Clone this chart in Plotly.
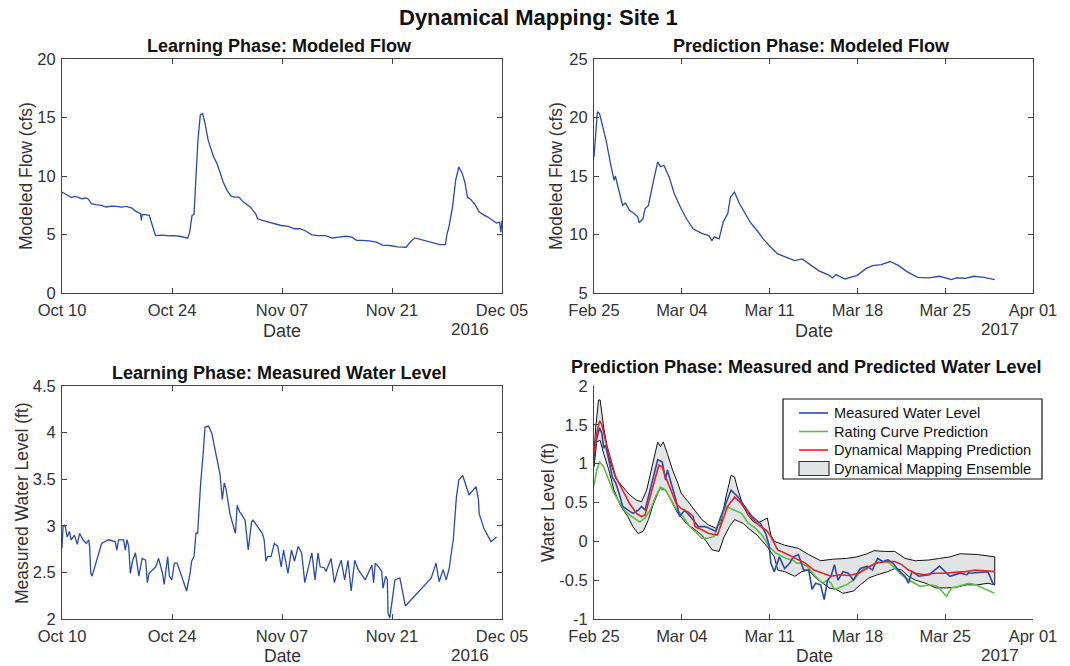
import pandas as pd
import plotly.graph_objects as go

# ---------------- data (day offsets from phase start, values) ----------------
learn_start = pd.Timestamp("2016-10-10")
pred_start = pd.Timestamp("2017-02-25")

lf_days = [0, 0.4, 0.73, 1.2, 1.6, 2.0, 2.5, 3.0, 3.3, 3.75, 4.3, 5.04, 5.6, 6.3, 6.9, 7.6, 8.2, 8.9,
           9.35, 10.0, 10.1, 10.2, 10.6, 11.1, 11.9, 12.8, 13.5, 14.1, 15.0, 16.0, 16.25, 16.55, 16.8,
           17.0, 17.3, 17.6, 17.9, 18.2, 18.6, 19.3, 19.7, 20.1, 20.5, 21.0, 21.5, 21.9, 22.5, 23.1,
           23.6, 24.0, 24.65, 24.9, 25.5, 26.2, 27.0, 27.9, 28.8, 29.6, 30.3, 30.9, 31.8, 32.6, 33.5,
           34.4, 35.2, 36.1, 36.9, 37.5, 38.2, 39.1, 40.0, 40.8, 41.7, 42.7, 43.8, 44.3, 44.9, 48.1,
           48.8, 49.0, 49.2, 49.7, 50.1, 50.5, 50.95, 51.3, 51.6, 52.0, 52.5, 53.1, 53.6, 54.2,
           55.3, 55.7, 55.85, 56.0]
lf_vals = [8.63, 8.45, 8.34, 8.15, 8.25, 8.2, 8.05, 8.12, 8.06, 7.63, 7.55, 7.49, 7.35, 7.43, 7.4,
           7.34, 7.4, 7.26, 7.0, 6.77, 6.2, 6.7, 6.7, 6.63, 4.91, 4.95, 4.88, 4.91, 4.85, 4.69, 5.2,
           6.63, 6.7, 9.63, 13.06, 15.2, 15.34, 14.5, 13.06, 11.63, 11.1, 10.34, 9.5, 8.77, 8.3, 8.2,
           8.2, 7.77, 7.5, 7.34, 6.77, 6.34, 6.2, 6.06, 5.95, 5.77, 5.7, 5.49, 5.5, 5.34, 4.97, 4.9,
           4.91, 4.7, 4.77, 4.85, 4.77, 4.5, 4.49, 4.45, 4.34, 4.1, 4.06, 3.95, 3.91, 4.34, 4.71, 4.14,
           4.14, 5.06, 5.49, 7.34, 9.63, 10.77, 10.2, 9.4, 8.2, 8.0, 7.63, 6.91, 6.7, 6.49, 5.97, 6.06,
           5.2, 6.2]

pf_days = [0, 0.14, 0.27, 0.44, 0.63, 0.96, 1.32, 1.6, 1.7, 1.95, 2.28, 2.5, 2.83, 3.2, 3.5, 3.6,
           3.9, 4.07, 4.34, 4.75, 5.08, 5.3, 5.58, 6.0, 6.4, 6.95, 7.4, 7.9, 8.6, 9.15, 9.4, 9.6, 9.97,
           10.3, 10.66, 10.88, 11.2, 11.6, 12.0, 12.45, 13.0, 13.5, 14.1, 14.65, 15.3, 16.0, 16.6,
           17.1, 17.9, 18.8, 19.0, 19.3, 20.0, 20.5, 20.96, 21.65, 22.2, 22.9, 23.6, 24.3, 24.95,
           25.8, 26.7, 27.55, 28.5, 28.9, 29.6, 30.3, 31.1, 31.95]
pf_vals = [16.63, 18.6, 20.5, 20.34, 19.5, 18.06, 16.06, 14.63, 15.0, 13.9, 12.5, 12.7, 12.06, 11.8,
           11.49, 11.0, 11.34, 12.2, 12.49, 14.63, 16.2, 15.8, 15.9, 14.9, 13.49, 12.2, 11.3, 10.49,
           10.1, 9.91, 9.49, 9.8, 9.63, 11.06, 11.77, 13.2, 13.63, 12.63, 11.9, 11.06, 10.34, 9.6,
           8.91, 8.34, 8.06, 7.77, 7.91, 7.54, 6.91, 6.49, 6.29, 6.57, 6.2, 6.35, 6.49, 7.06, 7.34,
           7.43, 7.69, 7.34, 6.83, 6.34, 6.29, 6.43, 6.14, 6.29, 6.26, 6.43, 6.34, 6.14]

lw_days = [0, 0.13, 0.39, 0.65, 0.95, 1.16, 1.59, 1.94, 2.24, 2.67, 3.1, 3.4, 3.53, 3.66, 3.83, 4.18,
           5.04, 5.9, 6.77, 6.98, 7.2, 7.84, 8.05, 8.27, 8.49, 8.7, 9.0, 9.35, 9.57, 9.78, 10.2, 10.65,
           10.86, 11.08, 11.94, 12.29, 12.8, 13.0, 13.45, 13.66, 13.97, 14.3, 14.65, 15.87, 16.3, 16.5,
           16.8, 17.05, 17.26, 17.65, 18.0, 18.2, 18.65, 19.08, 19.4, 19.6, 19.8, 20.1, 20.4, 20.65,
           20.86, 21.4, 22.07, 22.3, 22.6, 22.8, 23.3, 23.7, 24.13, 24.3, 25.5, 25.73, 25.95, 26.16,
           26.6, 27.03, 27.46, 27.9, 28.2, 28.76, 29.2, 29.6, 30.05, 30.5, 30.9, 31.8, 32.2, 32.59,
           32.85, 33.37, 33.6, 33.8, 34.24, 34.67, 35.1, 35.54, 35.97, 36.4, 36.8, 37.26, 37.7, 38.6,
           39.44, 39.66, 39.87, 40.3, 40.5, 40.7, 40.85, 41.2, 41.4, 41.5, 41.72, 42.37, 43.0, 43.7,
           47.0, 47.1, 47.4, 47.6, 48.0, 48.5, 48.9, 49.3, 49.6, 49.8, 50.2, 50.5, 51.0, 51.8, 52.7,
           53.0, 53.1, 53.7, 54.6, 55.3]
lw_vals = [2.76, 2.99, 3.01, 2.88, 2.94, 2.85, 2.9, 2.8, 2.92, 2.85, 2.81, 2.85, 2.76, 2.49, 2.46,
           2.56, 2.81, 2.85, 2.83, 2.74, 2.85, 2.85, 2.74, 2.85, 2.78, 2.49, 2.63, 2.71, 2.6, 2.46,
           2.65, 2.63, 2.39, 2.49, 2.56, 2.65, 2.49, 2.37, 2.67, 2.46, 2.42, 2.6, 2.6, 2.3, 2.49, 2.62,
           2.67, 2.92, 2.92, 3.46, 3.81, 4.06, 4.07, 3.99, 3.85, 3.76, 3.67, 3.56, 3.28, 3.46, 3.4,
           3.12, 2.92, 3.22, 3.15, 3.13, 3.06, 2.74, 3.04, 3.06, 2.92, 2.85, 2.62, 2.67, 2.67, 2.81,
           2.78, 2.56, 2.74, 2.49, 2.74, 2.62, 2.78, 2.71, 2.39, 2.71, 2.42, 2.71, 2.56, 2.55, 2.51,
           2.55, 2.65, 2.39, 2.53, 2.63, 2.42, 2.63, 2.3, 2.63, 2.53, 2.42, 2.58, 2.39, 2.6, 2.56,
           2.53, 2.51, 2.33, 2.46, 2.42, 2.06, 2.01, 2.42, 2.44, 2.14, 2.44, 2.47, 2.56, 2.6, 2.4,
           2.53, 2.42, 2.55, 2.74, 2.85, 3.31, 3.49, 3.54, 3.33, 3.42, 3.28, 3.13, 2.97, 2.83, 2.88,
           2.83, 2.78, 2.85]

ens_days_up = [0, 0.14, 0.36, 0.49, 0.77, 1.18, 1.73, 2.28, 2.83, 3.38, 3.79, 4.2, 4.75, 5.08, 5.3,
               5.52, 5.85, 6.26, 6.68, 6.95, 7.5, 8.19, 8.6, 9.15, 9.7, 10.11, 10.52, 10.93, 11.2,
               11.48, 11.9, 12.31, 12.72, 13.0, 13.82, 14.1, 14.37, 15.2, 16.29, 17.11, 18.07, 19.03,
               20.13, 20.96, 21.78, 22.33, 23.15, 23.98, 24.8, 25.62, 26.72, 27.55, 28.37, 29.19,
               30.57, 31.95]
ens_up = [1.13, 1.47, 1.82, 1.82, 1.47, 1.09, 0.81, 0.70, 0.60, 0.53, 0.51, 0.66, 1.05, 1.28, 1.22,
          1.28, 1.13, 0.92, 0.75, 0.62, 0.51, 0.36, 0.28, 0.21, 0.17, 0.23, 0.57, 0.85, 0.83, 0.66,
          0.45, 0.33, 0.25, 0.23, 0.30, 0.08, 0.0, -0.05, -0.09, -0.17, -0.25, -0.23, -0.22, -0.20,
          -0.16, -0.12, -0.13, -0.13, -0.22, -0.25, -0.24, -0.22, -0.20, -0.16, -0.17, -0.20]
ens_days_lo = [0, 0.22, 0.49, 0.77, 1.18, 1.59, 2.14, 2.69, 3.1, 3.52, 3.93, 4.34, 4.75, 5.25, 5.71,
               6.13, 6.68, 7.37, 8.05, 8.6, 9.01, 9.42, 9.97, 10.38, 10.8, 11.21, 11.9, 12.45, 13.0,
               13.82, 14.37, 14.65, 15.2, 16.02, 16.57, 17.11, 17.66, 18.21, 18.76, 19.31, 19.86,
               20.68, 21.23, 21.92, 22.61, 23.43, 23.98, 24.53, 25.07, 25.62, 26.45, 27.27, 28.1,
               28.92, 29.74, 30.57, 31.4, 31.95]
ens_lo = [0.96, 1.28, 1.30, 1.13, 0.92, 0.66, 0.45, 0.32, 0.19, 0.10, 0.13, 0.28, 0.49, 0.68, 0.66,
          0.53, 0.36, 0.23, 0.15, 0.08, -0.02, -0.11, -0.13, 0.06, 0.19, 0.28, 0.23, 0.15, 0.08,
          -0.07, -0.20, -0.37, -0.39, -0.45, -0.39, -0.37, -0.47, -0.54, -0.60, -0.62, -0.67, -0.64,
          -0.56, -0.47, -0.43, -0.39, -0.35, -0.37, -0.45, -0.50, -0.54, -0.60, -0.60, -0.59, -0.56,
          -0.56, -0.54, -0.56]

dm_days = [0, 0.22, 0.44, 0.63, 0.91, 1.32, 1.73, 2.28, 2.83, 3.38, 3.79, 4.07, 4.34, 4.75, 5.17,
           5.44, 5.71, 6.13, 6.54, 6.95, 7.5, 7.91, 8.05, 8.6, 9.15, 9.83, 10.25, 10.66, 11.21, 11.62,
           12.04, 12.59, 13.14, 13.82, 14.1, 14.65, 15.2, 16.02, 16.84, 17.53, 18.21, 18.9, 19.59,
           20.27, 21.1, 21.78, 22.47, 23.29, 23.98, 24.53, 25.07, 25.62, 26.3, 27.13, 27.95, 28.78,
           29.6, 30.43, 31.25, 31.95]
dm_vals = [1.13, 1.39, 1.55, 1.50, 1.30, 1.05, 0.83, 0.66, 0.49, 0.36, 0.32, 0.34, 0.49, 0.75, 0.98,
           0.96, 0.83, 0.66, 0.49, 0.42, 0.38, 0.32, 0.19, 0.15, 0.10, 0.08, 0.28, 0.45, 0.57, 0.51,
           0.42, 0.30, 0.21, 0.13, 0.06, -0.11, -0.15, -0.22, -0.28, -0.37, -0.41, -0.45, -0.43, -0.44,
           -0.41, -0.35, -0.28, -0.26, -0.26, -0.30, -0.37, -0.41, -0.43, -0.41, -0.41, -0.40, -0.39,
           -0.37, -0.38, -0.39]

rc_days = [0, 0.22, 0.44, 0.77, 1.18, 1.59, 2.0, 2.42, 2.83, 3.24, 3.65, 4.07, 4.48, 4.89, 5.3, 5.71,
           6.13, 6.54, 7.09, 7.64, 8.05, 8.46, 8.6, 9.01, 9.56, 9.97, 10.52, 10.93, 11.21, 11.76, 12.31,
           12.86, 13.41, 13.96, 14.51, 15.33, 15.83, 16.16, 16.43, 16.98, 17.53, 17.94, 18.21, 18.62,
           18.9, 19.17, 19.59, 20.13, 20.68, 21.37, 22.2, 23.02, 23.57, 24.12, 24.67, 25.35, 26.03,
           26.86, 27.41, 28.1, 28.51, 29.06, 29.88, 30.43, 30.98, 31.25, 31.53, 31.95]
rc_vals = [0.72, 0.92, 1.02, 0.96, 0.79, 0.62, 0.51, 0.40, 0.34, 0.30, 0.25, 0.30, 0.40, 0.57, 0.70,
           0.66, 0.53, 0.42, 0.32, 0.19, 0.13, 0.06, 0.04, 0.04, 0.06, 0.23, 0.45, 0.42, 0.40, 0.36,
           0.23, 0.17, 0.08, -0.07, -0.15, -0.22, -0.24, -0.28, -0.28, -0.32, -0.43, -0.50, -0.54,
           -0.50, -0.54, -0.62, -0.59, -0.56, -0.50, -0.37, -0.30, -0.26, -0.28, -0.37, -0.45, -0.52,
           -0.58, -0.56, -0.58, -0.71, -0.60, -0.58, -0.54, -0.56, -0.60, -0.62, -0.64, -0.67]

mw_days = [0, 0.22, 0.44, 0.63, 0.77, 0.91, 1.18, 1.46, 1.73, 2.0, 2.28, 2.69, 3.1, 3.52, 3.79,
           4.07, 4.34, 4.75, 5.08, 5.44, 5.71, 5.85, 6.13, 6.54, 6.82, 7.23, 7.78, 8.32, 8.87, 9.42,
           9.7, 10.11, 10.52, 10.93, 11.48, 12.04, 12.59, 13.27, 13.69, 13.96, 14.1, 14.37, 14.78,
           15.2, 15.61, 15.89, 16.3, 16.71, 17.12, 17.39, 17.66, 18.07, 18.35, 18.62, 18.9, 19.17,
           19.45, 19.86, 20.27, 20.68, 21.23, 21.78, 22.2, 22.61, 23.02, 23.43, 23.84, 24.25, 24.8,
           25.07, 25.35, 25.9, 26.72, 27.55, 28.37, 29.19, 29.74, 29.88, 30.0, 31.4, 31.8, 31.95]
mw_vals = [1.09, 1.32, 1.46, 1.39, 1.20, 1.24, 1.05, 0.83, 0.75, 0.62, 0.45, 0.40, 0.36, 0.40, 0.45,
           0.40, 0.57, 0.85, 1.05, 1.02, 0.79, 0.92, 0.75, 0.53, 0.32, 0.40, 0.30, 0.19, 0.19, 0.15,
           0.13, 0.32, 0.49, 0.66, 0.57, 0.45, 0.32, 0.23, 0.10, -0.05, -0.28, -0.39, -0.20, -0.35,
           -0.28, -0.20, -0.17, -0.37, -0.37, -0.62, -0.54, -0.56, -0.75, -0.50, -0.45, -0.30, -0.50,
           -0.39, -0.41, -0.50, -0.35, -0.32, -0.37, -0.22, -0.26, -0.24, -0.28, -0.37, -0.45, -0.54,
           -0.39, -0.45, -0.43, -0.32, -0.45, -0.41, -0.43, -0.40, -0.41, -0.39, -0.54, -0.56]

learn_ticks = ["2016-10-10", "2016-10-24", "2016-11-07", "2016-11-21", "2016-12-05"]
learn_ticktext = ["Oct 10", "Oct 24", "Nov 07", "Nov 21", "Dec 05"]
pred_ticks = ["2017-02-25", "2017-03-04", "2017-03-11", "2017-03-18", "2017-03-25", "2017-04-01"]
pred_ticktext = ["Feb 25", "Mar 04", "Mar 11", "Mar 18", "Mar 25", "Apr 01"]

flow_learn_ticks = [0, 5, 10, 15, 20]
flow_pred_ticks = [5, 10, 15, 20, 25]
wl_learn_ticks = [2, 2.5, 3, 3.5, 4, 4.5]
wl_pred_ticks = [-1, -0.5, 0, 0.5, 1, 1.5, 2]

legend_names = ["Measured Water Level", "Rating Curve Prediction",
                "Dynamical Mapping Prediction", "Dynamical Mapping Ensemble"]


def to_dates(start, days):
    return start + pd.to_timedelta(pd.Series(days), unit="D")


def fmt(v):
    return "%g" % v


# ---------------- figure ----------------
W, H = 1070, 666
BLUE = "#2B4BA8"
GREEN = "#5BBF45"
RED = "#EC2027"
BAND = "#E3E4E6"
AX = "#444444"
TXT = "#333333"
FONT = "Liberation Sans, Arial, Helvetica, sans-serif"

fig = go.Figure()

fig.add_trace(go.Scatter(x=to_dates(learn_start, lf_days), y=lf_vals, mode="lines",
                         line=dict(color=BLUE, width=1.3), xaxis="x", yaxis="y"))
fig.add_trace(go.Scatter(x=to_dates(pred_start, pf_days), y=pf_vals, mode="lines",
                         line=dict(color=BLUE, width=1.3), xaxis="x2", yaxis="y2"))
fig.add_trace(go.Scatter(x=to_dates(learn_start, lw_days), y=lw_vals, mode="lines",
                         line=dict(color=BLUE, width=1.3), xaxis="x3", yaxis="y3"))

# ensemble band polygon
band_x = list(to_dates(pred_start, ens_days_up)) + list(to_dates(pred_start, ens_days_lo[::-1]))
band_y = ens_up + ens_lo[::-1]
band_x.append(band_x[0])
band_y.append(band_y[0])
fig.add_trace(go.Scatter(x=band_x, y=band_y, mode="lines", fill="toself",
                         fillcolor=BAND, line=dict(color="#111111", width=1),
                         name=legend_names[3], xaxis="x4", yaxis="y4"))
fig.add_trace(go.Scatter(x=to_dates(pred_start, rc_days), y=rc_vals, mode="lines",
                         line=dict(color=GREEN, width=1.6), name=legend_names[1],
                         xaxis="x4", yaxis="y4"))
fig.add_trace(go.Scatter(x=to_dates(pred_start, mw_days), y=mw_vals, mode="lines",
                         line=dict(color=BLUE, width=1.6), name=legend_names[0],
                         xaxis="x4", yaxis="y4"))
fig.add_trace(go.Scatter(x=to_dates(pred_start, dm_days), y=dm_vals, mode="lines",
                         line=dict(color=RED, width=1.6), name=legend_names[2],
                         xaxis="x4", yaxis="y4"))


def px_x(v):
    return v / W


def px_y(v):
    return 1 - v / H


dx1 = [px_x(62), px_x(502)]
dx2 = [px_x(594), px_x(1033)]
dy_top = [px_y(293), px_y(59)]
dy_bot = [px_y(619), px_y(386)]


def xaxis(domain, anchor, rng, ticks, text, mirror=True):
    return dict(domain=domain, anchor=anchor, type="date", range=rng, tickvals=ticks,
                ticktext=text, ticks="inside", ticklen=5, tickcolor=AX, showline=True,
                linecolor=AX, linewidth=1, mirror="ticks" if mirror else False, showgrid=False,
                zeroline=False, tickfont=dict(family=FONT, size=16.5, color=TXT),
                ticklabelstandoff=2, automargin=False)


def yaxis(domain, anchor, rng, ticks, mirror=True):
    return dict(domain=domain, anchor=anchor, range=rng, tickvals=ticks,
                ticktext=[fmt(t) for t in ticks], ticks="inside", ticklen=5, tickcolor=AX,
                showline=True, linecolor=AX, linewidth=1, mirror="ticks" if mirror else False,
                showgrid=False, zeroline=False, tickfont=dict(family=FONT, size=16.5, color=TXT),
                ticklabelstandoff=2, automargin=False)


fig.update_layout(
    width=W, height=H, margin=dict(l=0, r=0, t=0, b=0, pad=0, autoexpand=False),
    paper_bgcolor="white", plot_bgcolor="white",
    font=dict(family=FONT, color=TXT),
    showlegend=False,
    xaxis=xaxis(dx1, "y", ["2016-10-10", "2016-12-05"], learn_ticks, learn_ticktext),
    yaxis=yaxis(dy_top, "x", [0, 20], flow_learn_ticks),
    xaxis2=xaxis(dx2, "y2", ["2017-02-25", "2017-04-01"], pred_ticks, pred_ticktext),
    yaxis2=yaxis(dy_top, "x2", [5, 25], flow_pred_ticks),
    xaxis3=xaxis(dx1, "y3", ["2016-10-10", "2016-12-05"], learn_ticks, learn_ticktext),
    yaxis3=yaxis(dy_bot, "x3", [2, 4.5], wl_learn_ticks),
    xaxis4=xaxis(dx2, "y4", ["2017-02-25", "2017-04-01"], pred_ticks, pred_ticktext, mirror=False),
    yaxis4=yaxis(dy_bot, "x4", [-1, 2], wl_pred_ticks, mirror=False),
)


def ann(text, x, y, size=16, bold=False, color=TXT, angle=0, xanchor="center"):
    fig.add_annotation(text=("<b>%s</b>" % text) if bold else text, x=px_x(x), y=px_y(y),
                       xref="paper", yref="paper", showarrow=False, textangle=angle,
                       font=dict(family=FONT, size=size, color=color),
                       xanchor=xanchor, yanchor="middle")


ann("Dynamical Mapping: Site 1", 538, 18, size=22, bold=True, color="#111111")
ann("Learning Phase: Modeled Flow", 279, 46, size=18, bold=True, color="#111111")
ann("Prediction Phase: Modeled Flow", 811, 46, size=18, bold=True, color="#111111")
ann("Learning Phase: Measured Water Level", 279, 373, size=18, bold=True, color="#111111")
ann("Prediction Phase: Measured and Predicted Water Level", 806, 367, size=18, bold=True,
    color="#111111")

ann("Date", 282, 331, size=18)
ann("2016", 470, 329, size=17)
ann("Date", 814, 331, size=18)
ann("2017", 1000, 329, size=17)
ann("Date", 282, 656, size=17.5)
ann("2016", 470, 655, size=17)
ann("Date", 814, 656, size=17.5)
ann("2017", 1000, 655, size=17)

ann("Modeled Flow (cfs)", 26, 176, size=17.5, angle=-90)
ann("Modeled Flow (cfs)", 556, 176, size=17.5, angle=-90)
ann("Measured Water Level (ft)", 22, 503, size=17.5, angle=-90)
ann("Water Level (ft)", 548, 503, size=17.5, angle=-90)

# ---- legend box (drawn as a key) ----
fig.add_shape(type="rect", xref="paper", yref="paper", x0=px_x(783), x1=px_x(1042),
              y0=px_y(479), y1=px_y(399), line=dict(color="#111111", width=1.2),
              fillcolor="white", layer="above")
row_y = [413, 431.5, 450, 468.5]
sample_cols = [BLUE, GREEN, RED]
for i, name in enumerate(legend_names):
    yy = row_y[i]
    if i < 3:
        fig.add_shape(type="line", xref="paper", yref="paper", x0=px_x(799), x1=px_x(828),
                      y0=px_y(yy), y1=px_y(yy), line=dict(color=sample_cols[i], width=1.6),
                      layer="above")
    else:
        fig.add_shape(type="rect", xref="paper", yref="paper", x0=px_x(799), x1=px_x(829),
                      y0=px_y(yy + 7), y1=px_y(yy - 7), line=dict(color="#333333", width=1.2),
                      fillcolor=BAND, layer="above")
    ann(name, 832, yy, size=14.6, color="#111111", xanchor="left")

fig.write_html("out.html")
